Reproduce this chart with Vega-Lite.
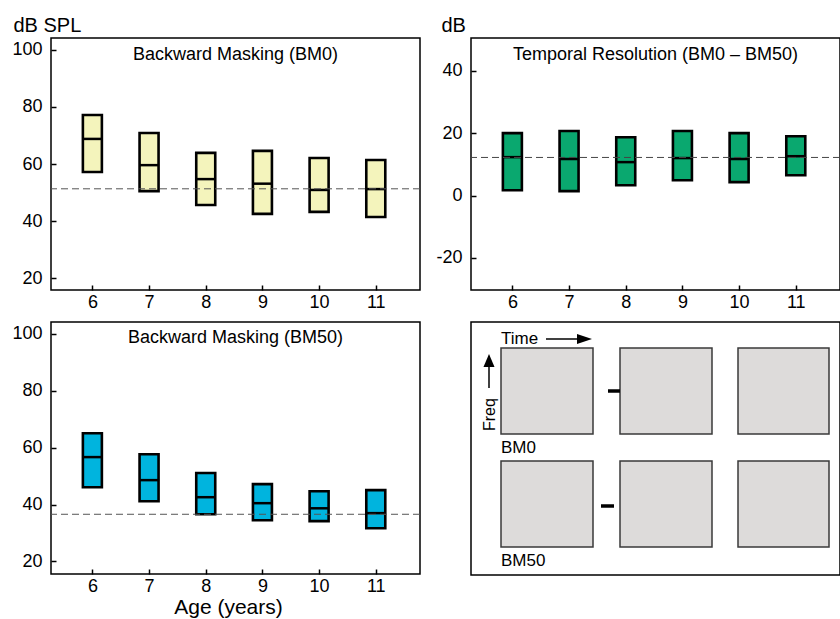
{
  "$schema": "https://vega.github.io/schema/vega-lite/v6.json",
  "padding": {"left": 11, "top": 14, "right": 0, "bottom": 0},
  "background": "white",
  "config": {
    "font": "Liberation Sans",
    "view": {"stroke": "black", "strokeWidth": 1.5},
    "axis": {"grid": false, "domain": false, "tickColor": "black", "tickSize": -5, "tickWidth": 1.5, "labelFontSize": 18, "labelColor": "black", "titleColor": "black", "titleFontWeight": "normal", "labelOverlap": false},
    "axisX": {"labelPadding": 8, "format": "d"},
    "axisY": {"labelPadding": 14},
    "title": {"fontSize": 18, "fontWeight": "normal", "color": "black", "frame": "group", "offset": -21, "dy": 28, "baseline": "alphabetic"}
  },
  "datasets": {
    "bm0": [
      {"age": 6, "lo": 57.2, "median": 68.8, "hi": 77.2},
      {"age": 7, "lo": 50.5, "median": 59.6, "hi": 70.9},
      {"age": 8, "lo": 45.6, "median": 54.7, "hi": 63.9},
      {"age": 9, "lo": 42.5, "median": 53.1, "hi": 64.6},
      {"age": 10, "lo": 43.2, "median": 50.9, "hi": 62.1},
      {"age": 11, "lo": 41.4, "median": 51.2, "hi": 61.4}
    ],
    "tr": [
      {"age": 6, "lo": 1.7, "median": 12.3, "hi": 20.0},
      {"age": 7, "lo": 1.4, "median": 11.7, "hi": 20.7},
      {"age": 8, "lo": 3.3, "median": 10.7, "hi": 18.7},
      {"age": 9, "lo": 4.9, "median": 12.0, "hi": 20.7},
      {"age": 10, "lo": 4.3, "median": 11.7, "hi": 20.0},
      {"age": 11, "lo": 6.5, "median": 12.6, "hi": 19.0}
    ],
    "bm50": [
      {"age": 6, "lo": 46.1, "median": 56.7, "hi": 65.1},
      {"age": 7, "lo": 41.2, "median": 48.6, "hi": 57.7},
      {"age": 8, "lo": 36.6, "median": 42.6, "hi": 51.1},
      {"age": 9, "lo": 34.5, "median": 40.5, "hi": 47.2},
      {"age": 10, "lo": 34.2, "median": 38.7, "hi": 44.7},
      {"age": 11, "lo": 31.7, "median": 37.0, "hi": 45.1}
    ],
    "squares": [
      {"x1": 30, "x2": 122, "y1": 26, "y2": 112},
      {"x1": 149, "x2": 241, "y1": 26, "y2": 112},
      {"x1": 267, "x2": 358, "y1": 26, "y2": 112},
      {"x1": 30, "x2": 122, "y1": 139, "y2": 225},
      {"x1": 149, "x2": 241, "y1": 139, "y2": 225},
      {"x1": 267, "x2": 358, "y1": 139, "y2": 225}
    ]
  },
  "bounds": "flush",
  "columns": 2,
  "spacing": {"row": 32, "column": 51},
  "concat": [
    {
      "width": 369, "height": 252,
      "title": "Backward Masking (BM0)",
      "data": {"name": "bm0"},
      "layer": [
        {
          "mark": {"type": "bar", "width": 19, "fill": "#f4f4bc", "stroke": "black", "strokeWidth": 2.6},
          "encoding": {
            "x": {"field": "age", "type": "quantitative", "scale": {"domain": [5.27, 11.78], "nice": false, "zero": false, "padding": 0}, "axis": {"values": [6, 7, 8, 9, 10, 11], "title": null}},
            "y": {"field": "lo", "type": "quantitative", "scale": {"domain": [15.8, 104.2], "nice": false, "zero": false}, "axis": {"values": [20, 40, 60, 80, 100], "title": "dB SPL", "titleAngle": 0, "titleAlign": "left", "titleBaseline": "alphabetic", "titleX": -38, "titleY": -7, "titleFontSize": 20}},
            "y2": {"field": "hi"}
          }
        },
        {
          "mark": {"type": "tick", "orient": "horizontal", "size": 20, "thickness": 2.5, "color": "black", "opacity": 1},
          "encoding": {
            "x": {"field": "age", "type": "quantitative"},
            "y": {"field": "median", "type": "quantitative"}
          }
        },
        {
          "data": {"values": [{"ref": 51.3}]},
          "mark": {"type": "rule", "strokeDash": [7, 4], "color": "#555555", "strokeWidth": 1},
          "encoding": {"y": {"field": "ref", "type": "quantitative"}}
        }
      ]
    },
    {
      "width": 369, "height": 252,
      "title": "Temporal Resolution (BM0 \u2013 BM50)",
      "data": {"name": "tr"},
      "layer": [
        {
          "mark": {"type": "bar", "width": 19, "fill": "#0aa86f", "stroke": "black", "strokeWidth": 2.6},
          "encoding": {
            "x": {"field": "age", "type": "quantitative", "scale": {"domain": [5.27, 11.78], "nice": false, "zero": false, "padding": 0}, "axis": {"values": [6, 7, 8, 9, 10, 11], "title": null}},
            "y": {"field": "lo", "type": "quantitative", "scale": {"domain": [-30.3, 50.5], "nice": false, "zero": false}, "axis": {"values": [-20, 0, 20, 40], "labelExpr": "'' + datum.value", "title": "dB", "titleAngle": 0, "titleAlign": "left", "titleBaseline": "alphabetic", "titleX": -30, "titleY": -7, "titleFontSize": 20}},
            "y2": {"field": "hi"}
          }
        },
        {
          "mark": {"type": "tick", "orient": "horizontal", "size": 20, "thickness": 2.5, "color": "black", "opacity": 1},
          "encoding": {
            "x": {"field": "age", "type": "quantitative"},
            "y": {"field": "median", "type": "quantitative"}
          }
        },
        {
          "data": {"values": [{"ref": 12.2}]},
          "mark": {"type": "rule", "strokeDash": [7, 4], "color": "#444444", "strokeWidth": 1},
          "encoding": {"y": {"field": "ref", "type": "quantitative"}}
        }
      ]
    },
    {
      "width": 369, "height": 252,
      "title": {"text": "Backward Masking (BM50)", "dy": 4},
      "data": {"name": "bm50"},
      "layer": [
        {
          "mark": {"type": "bar", "width": 19, "fill": "#00b4de", "stroke": "black", "strokeWidth": 2.6},
          "encoding": {
            "x": {"field": "age", "type": "quantitative", "scale": {"domain": [5.27, 11.78], "nice": false, "zero": false, "padding": 0}, "axis": {"values": [6, 7, 8, 9, 10, 11], "title": "Age (years)", "titleFontSize": 21, "titlePadding": 1, "titleX": 177}},
            "y": {"field": "lo", "type": "quantitative", "scale": {"domain": [15.6, 104.2], "nice": false, "zero": false}, "axis": {"values": [20, 40, 60, 80, 100], "title": null}},
            "y2": {"field": "hi"}
          }
        },
        {
          "mark": {"type": "tick", "orient": "horizontal", "size": 20, "thickness": 2.5, "color": "black", "opacity": 1},
          "encoding": {
            "x": {"field": "age", "type": "quantitative"},
            "y": {"field": "median", "type": "quantitative"}
          }
        },
        {
          "data": {"values": [{"ref": 36.6}]},
          "mark": {"type": "rule", "strokeDash": [7, 4], "color": "#555555", "strokeWidth": 1},
          "encoding": {"y": {"field": "ref", "type": "quantitative"}}
        }
      ]
    },
    {
      "width": 369, "height": 253,
      "layer": [
        {
          "data": {"name": "squares"},
          "mark": {"type": "rect", "fill": "#dddbda", "stroke": "#3a3a3a", "strokeWidth": 1.5},
          "encoding": {
            "x": {"field": "x1", "type": "quantitative", "scale": {"domain": [0, 369], "nice": false, "zero": false}, "axis": null},
            "x2": {"field": "x2"},
            "y": {"field": "y1", "type": "quantitative", "scale": {"domain": [0, 253], "nice": false, "zero": false, "reverse": true}, "axis": null},
            "y2": {"field": "y2"}
          }
        },
        {
          "data": {"values": [{"x1": 137, "x2": 149, "y": 69}, {"x1": 130, "x2": 143, "y": 184}]},
          "mark": {"type": "rule", "color": "black", "strokeWidth": 3.5},
          "encoding": {
            "x": {"field": "x1", "type": "quantitative"},
            "x2": {"field": "x2"},
            "y": {"field": "y", "type": "quantitative"}
          }
        },
        {
          "data": {"values": [{"x1": 75, "x2": 107, "y": 17}]},
          "mark": {"type": "rule", "color": "black", "strokeWidth": 1.5},
          "encoding": {
            "x": {"field": "x1", "type": "quantitative"},
            "x2": {"field": "x2"},
            "y": {"field": "y", "type": "quantitative"}
          }
        },
        {
          "data": {"values": [{"x": 113.5, "y": 17}]},
          "mark": {"type": "point", "shape": "M -1 -0.67 L 1 0 L -1 0.67 Z", "size": 225, "filled": true, "color": "black", "opacity": 1},
          "encoding": {
            "x": {"field": "x", "type": "quantitative"},
            "y": {"field": "y", "type": "quantitative"}
          }
        },
        {
          "data": {"values": [{"x": 18, "y1": 66, "y2": 44}]},
          "mark": {"type": "rule", "color": "black", "strokeWidth": 1.5},
          "encoding": {
            "x": {"field": "x", "type": "quantitative"},
            "y": {"field": "y1", "type": "quantitative"},
            "y2": {"field": "y2"}
          }
        },
        {
          "data": {"values": [{"x": 18, "y": 38.5}]},
          "mark": {"type": "point", "shape": "M -0.85 1 L 0 -1 L 0.85 1 Z", "size": 169, "filled": true, "color": "black", "opacity": 1},
          "encoding": {
            "x": {"field": "x", "type": "quantitative"},
            "y": {"field": "y", "type": "quantitative"}
          }
        },
        {
          "data": {"values": [{"t": "Time", "x": 30, "y": 22}, {"t": "BM0", "x": 30, "y": 131}, {"t": "BM50", "x": 30, "y": 244}]},
          "mark": {"type": "text", "fontSize": 17, "align": "left", "baseline": "alphabetic", "color": "black"},
          "encoding": {
            "x": {"field": "x", "type": "quantitative"},
            "y": {"field": "y", "type": "quantitative"},
            "text": {"field": "t"}
          }
        },
        {
          "data": {"values": [{"t": "Freq", "x": 18.5, "y": 109}]},
          "mark": {"type": "text", "fontSize": 16, "align": "left", "baseline": "middle", "angle": 270, "color": "black"},
          "encoding": {
            "x": {"field": "x", "type": "quantitative"},
            "y": {"field": "y", "type": "quantitative"},
            "text": {"field": "t"}
          }
        }
      ]
    }
  ]
}
